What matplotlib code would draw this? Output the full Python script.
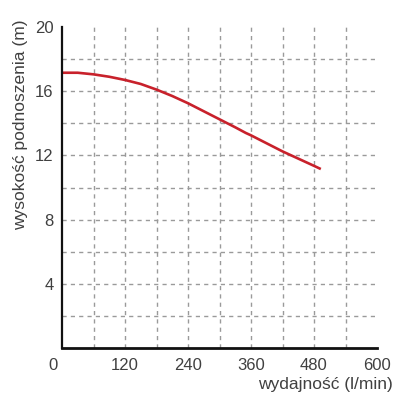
import matplotlib
matplotlib.use("Agg")
import matplotlib.pyplot as plt
from matplotlib.ticker import FixedLocator
import matplotlib.transforms as mtransforms

flow = [0, 30, 60, 90, 120, 150, 180, 210, 240, 270, 300, 330, 350, 360, 390, 420, 450, 480, 493]
head = [17.15, 17.15, 17.05, 16.9, 16.7, 16.45, 16.1, 15.7, 15.25, 14.75, 14.25, 13.75, 13.4, 13.25, 12.75, 12.25, 11.8, 11.35, 11.15]

x_ticks = [0, 120, 240, 360, 480, 600]
y_ticks = [4, 8, 12, 16, 20]
x_grid = [60, 120, 180, 240, 300, 360, 420, 480, 540]
y_grid = [2, 4, 6, 8, 10, 12, 14, 16, 18]

plt.rcParams['font.family'] = ['Liberation Sans', 'DejaVu Sans']
txt = '#404040'

fig = plt.figure(figsize=(4, 4), dpi=100)
ax = fig.add_axes([62/400, 52/400, 315/400, 321/400])
ax.plot(flow, head, color='#c8212b', lw=1.9, solid_capstyle='butt')
ax.set_xlim(0, 600)
ax.set_ylim(0, 20)

ax.xaxis.remove_overlapping_locs = False
ax.yaxis.remove_overlapping_locs = False
ax.xaxis.set_major_locator(FixedLocator(x_ticks))
ax.yaxis.set_major_locator(FixedLocator(y_ticks))
ax.xaxis.set_minor_locator(FixedLocator(x_grid))
ax.yaxis.set_minor_locator(FixedLocator(y_grid))
ax.grid(False, which='major')
ax.grid(True, which='minor', color='#9a9a9a', lw=1.0, linestyle=(0, (3, 3)))
ax.set_axisbelow(True)
ax.tick_params(which='both', length=0, labelsize=12, labelcolor=txt)
ax.tick_params(axis='x', pad=7)
ax.tick_params(axis='y', pad=6)

for s in ['top', 'right']:
    ax.spines[s].set_visible(False)
ax.spines['left'].set_linewidth(1.6)
ax.spines['bottom'].set_linewidth(2.0)
ax.spines['left'].set_color('#111111')
ax.spines['bottom'].set_color('#111111')

fig.canvas.draw()
lab0 = ax.get_xticklabels()[0]
lab0.set_transform(lab0.get_transform() + mtransforms.ScaledTranslation(-9/100, 0, fig.dpi_scale_trans))

fig.text(21/400, 1 - 20/400, 'wysokość podnoszenia (m)', rotation=90, ha='center', va='top',
         fontsize=12.5, color=txt)
fig.text(393/400, 1 - 385/400, 'wydajność (l/min)', ha='right', va='center',
         fontsize=12.5, color=txt)

fig.savefig('out.png', dpi=100)
